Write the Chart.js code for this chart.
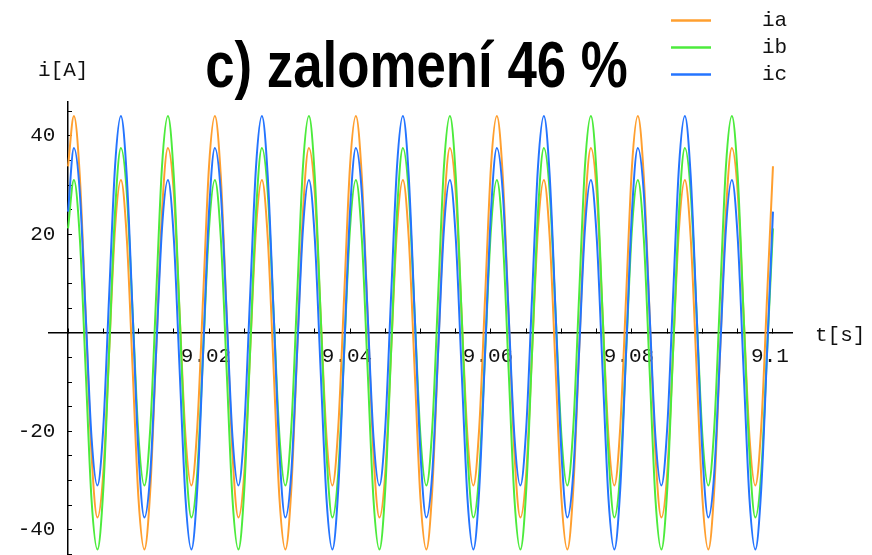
<!DOCTYPE html>
<html>
<head>
<meta charset="utf-8">
<script src="https://cdn.jsdelivr.net/npm/chart.js@4.4.0/dist/chart.umd.min.js"></script>
<style>
  html, body { margin: 0; padding: 0; background: #ffffff; overflow: hidden; }
  canvas { display: block; }
</style>
</head>
<body>
<canvas id="c" width="872" height="590"></canvas>
<script>
const chartTitle = 'c) zalomení 46 %';
const axisTitleY = 'i[A]';
const axisTitleX = 't[s]';
const seriesNames = ['ia', 'ib', 'ic'];
const seriesColors = ['#FF9F2F', '#4CEB3C', '#2474FF'];

// time samples [s]
const timeS = [
  9.00000, 9.00083, 9.00167, 9.00250, 9.00333, 9.00417, 9.00500, 9.00583, 9.00667, 9.00750, 9.00833, 9.00917,
  9.01000, 9.01083, 9.01167, 9.01250, 9.01333, 9.01417, 9.01500, 9.01583, 9.01667, 9.01750, 9.01833, 9.01917,
  9.02000, 9.02083, 9.02167, 9.02250, 9.02333, 9.02417, 9.02500, 9.02583, 9.02667, 9.02750, 9.02833, 9.02917,
  9.03000, 9.03083, 9.03167, 9.03250, 9.03333, 9.03417, 9.03500, 9.03583, 9.03667, 9.03750, 9.03833, 9.03917,
  9.04000, 9.04083, 9.04167, 9.04250, 9.04333, 9.04417, 9.04500, 9.04583, 9.04667, 9.04750, 9.04833, 9.04917,
  9.05000, 9.05083, 9.05167, 9.05250, 9.05333, 9.05417, 9.05500, 9.05583, 9.05667, 9.05750, 9.05833, 9.05917,
  9.06000, 9.06083, 9.06167, 9.06250, 9.06333, 9.06417, 9.06500, 9.06583, 9.06667, 9.06750, 9.06833, 9.06917,
  9.07000, 9.07083, 9.07167, 9.07250, 9.07333, 9.07417, 9.07500, 9.07583, 9.07667, 9.07750, 9.07833, 9.07917,
  9.08000, 9.08083, 9.08167, 9.08250, 9.08333, 9.08417, 9.08500, 9.08583, 9.08667, 9.08750, 9.08833, 9.08917,
  9.09000, 9.09083, 9.09167, 9.09250, 9.09333, 9.09417, 9.09500, 9.09583, 9.09667, 9.09750, 9.09833, 9.09917,
  9.10000
];

// phase currents [A]
const iA = [33.8,
  44.0, 31.8, 3.8, -24.6, -37.5, -28.5, -3.8, 21.2, 31.0, 19.3, -7.5, -33.8, -44.0, -31.8, -3.8, 24.6, 37.5, 28.5, 3.8, -21.2, -31.0, -19.3, 7.5, 33.8,
  44.0, 31.8, 3.8, -24.6, -37.5, -28.5, -3.8, 21.2, 31.0, 19.3, -7.5, -33.8, -44.0, -31.8, -3.8, 24.6, 37.5, 28.5, 3.8, -21.2, -31.0, -19.3, 7.5, 33.8,
  44.0, 31.8, 3.8, -24.6, -37.5, -28.5, -3.8, 21.2, 31.0, 19.3, -7.5, -33.8, -44.0, -31.8, -3.8, 24.6, 37.5, 28.5, 3.8, -21.2, -31.0, -19.3, 7.5, 33.8,
  44.0, 31.8, 3.8, -24.6, -37.5, -28.5, -3.8, 21.2, 31.0, 19.3, -7.5, -33.8, -44.0, -31.8, -3.8, 24.6, 37.5, 28.5, 3.8, -21.2, -31.0, -19.3, 7.5, 33.8,
  44.0, 31.8, 3.8, -24.6, -37.5, -28.5, -3.8, 21.2, 31.0, 19.3, -7.5, -33.8, -44.0, -31.8, -3.8, 24.6, 37.5, 28.5, 3.8, -21.2, -31.0, -19.3, 7.5, 33.8
];
const iB = [21.2,
  31.0, 19.3, -7.5, -33.8, -44.0, -31.8, -3.8, 24.6, 37.5, 28.5, 3.8, -21.2, -31.0, -19.3, 7.5, 33.8, 44.0, 31.8, 3.8, -24.6, -37.5, -28.5, -3.8, 21.2,
  31.0, 19.3, -7.5, -33.8, -44.0, -31.8, -3.8, 24.6, 37.5, 28.5, 3.8, -21.2, -31.0, -19.3, 7.5, 33.8, 44.0, 31.8, 3.8, -24.6, -37.5, -28.5, -3.8, 21.2,
  31.0, 19.3, -7.5, -33.8, -44.0, -31.8, -3.8, 24.6, 37.5, 28.5, 3.8, -21.2, -31.0, -19.3, 7.5, 33.8, 44.0, 31.8, 3.8, -24.6, -37.5, -28.5, -3.8, 21.2,
  31.0, 19.3, -7.5, -33.8, -44.0, -31.8, -3.8, 24.6, 37.5, 28.5, 3.8, -21.2, -31.0, -19.3, 7.5, 33.8, 44.0, 31.8, 3.8, -24.6, -37.5, -28.5, -3.8, 21.2,
  31.0, 19.3, -7.5, -33.8, -44.0, -31.8, -3.8, 24.6, 37.5, 28.5, 3.8, -21.2, -31.0, -19.3, 7.5, 33.8, 44.0, 31.8, 3.8, -24.6, -37.5, -28.5, -3.8, 21.2
];
const iC = [24.6,
  37.5, 28.5, 3.8, -21.2, -31.0, -19.3, 7.5, 33.8, 44.0, 31.8, 3.8, -24.6, -37.5, -28.5, -3.8, 21.2, 31.0, 19.3, -7.5, -33.8, -44.0, -31.8, -3.8, 24.6,
  37.5, 28.5, 3.8, -21.2, -31.0, -19.3, 7.5, 33.8, 44.0, 31.8, 3.8, -24.6, -37.5, -28.5, -3.8, 21.2, 31.0, 19.3, -7.5, -33.8, -44.0, -31.8, -3.8, 24.6,
  37.5, 28.5, 3.8, -21.2, -31.0, -19.3, 7.5, 33.8, 44.0, 31.8, 3.8, -24.6, -37.5, -28.5, -3.8, 21.2, 31.0, 19.3, -7.5, -33.8, -44.0, -31.8, -3.8, 24.6,
  37.5, 28.5, 3.8, -21.2, -31.0, -19.3, 7.5, 33.8, 44.0, 31.8, 3.8, -24.6, -37.5, -28.5, -3.8, 21.2, 31.0, 19.3, -7.5, -33.8, -44.0, -31.8, -3.8, 24.6,
  37.5, 28.5, 3.8, -21.2, -31.0, -19.3, 7.5, 33.8, 44.0, 31.8, 3.8, -24.6, -37.5, -28.5, -3.8, 21.2, 31.0, 19.3, -7.5, -33.8, -44.0, -31.8, -3.8, 24.6
];

const seriesValues = [iA, iB, iC];
const tickFont = { family: "'Liberation Mono', 'DejaVu Sans Mono', monospace", size: 21 };

function toPoints(values) {
  return values.map((v, i) => ({ x: timeS[i], y: v }));
}

const extraText = {
  id: 'extraText',
  afterDraw(chart) {
    const ctx = chart.ctx;
    ctx.save();
    // title (condensed bold sans)
    ctx.save();
    ctx.font = "bold 64px 'Liberation Sans', 'DejaVu Sans', sans-serif";
    ctx.fillStyle = '#000';
    ctx.textAlign = 'center';
    ctx.textBaseline = 'alphabetic';
    ctx.translate(416.5, 86.5);
    ctx.scale(0.825, 1);
    ctx.fillText(chartTitle, 0, 0);
    ctx.restore();
    // axis titles and legend
    ctx.font = "21px 'Liberation Mono', 'DejaVu Sans Mono', monospace";
    ctx.fillStyle = '#111';
    ctx.textAlign = 'left';
    ctx.textBaseline = 'alphabetic';
    ctx.fillText(axisTitleY, 38, 76);
    ctx.fillText(axisTitleX, 815, 341);
    chart.data.datasets.forEach((ds, i) => {
      const y = 20.5 + i * 27;
      ctx.strokeStyle = ds.borderColor;
      ctx.lineWidth = 2.5;
      ctx.beginPath();
      ctx.moveTo(671, y);
      ctx.lineTo(711, y);
      ctx.stroke();
      ctx.fillText(ds.label, 762, y + 5);
    });
    ctx.restore();
  }
};

new Chart(document.getElementById('c'), {
  type: 'line',
  data: {
    datasets: seriesNames.map((name, k) => ({
      label: name,
      data: toPoints(seriesValues[k]),
      borderColor: seriesColors[k],
      backgroundColor: seriesColors[k],
      borderWidth: 2,
      pointRadius: 0,
      fill: false,
      cubicInterpolationMode: 'monotone',
      order: 3 - k
    }))
  },
  options: {
    responsive: false,
    animation: false,
    devicePixelRatio: 1,
    layout: { padding: { left: 49, right: 80, top: 102, bottom: 30 } },
    plugins: {
      legend: { display: false },
      tooltip: { enabled: false },
      title: { display: false, text: chartTitle }
    },
    scales: {
      x: {
        type: 'linear',
        min: 8.9973,
        max: 9.1027,
        position: { y: 0 },
        border: { display: true, color: '#000', width: 1.5 },
        grid: { display: true, drawOnChartArea: false, drawTicks: true, tickLength: -5, color: '#000', lineWidth: 1 },
        ticks: {
          stepSize: 0.005,
          includeBounds: false,
          autoSkip: false,
          maxRotation: 0,
          minRotation: 0,
          padding: 16,
          labelOffset: -3,
          color: '#111',
          font: tickFont,
          callback: (v) => {
            const k = Math.round((v - 9) / 0.005);
            if (k > 0 && k % 4 === 0) {
              return (9 + k * 0.005).toFixed(2).replace(/0$/, '');
            }
            return '';
          }
        }
      },
      y: {
        type: 'linear',
        min: -46.13,
        max: 46.86,
        position: { x: 9 },
        border: { display: true, color: '#000', width: 1.5 },
        grid: { display: true, drawOnChartArea: false, drawTicks: true, tickLength: -5, color: '#000', lineWidth: 1 },
        ticks: {
          stepSize: 5,
          includeBounds: false,
          autoSkip: false,
          padding: 7,
          color: '#111',
          font: tickFont,
          callback: (v) => {
            const k = Math.round(v / 5);
            if (k !== 0 && k % 4 === 0) return String(k * 5) + ' ';
            return '';
          }
        }
      }
    }
  },
  plugins: [extraText]
});
</script>
</body>
</html>
